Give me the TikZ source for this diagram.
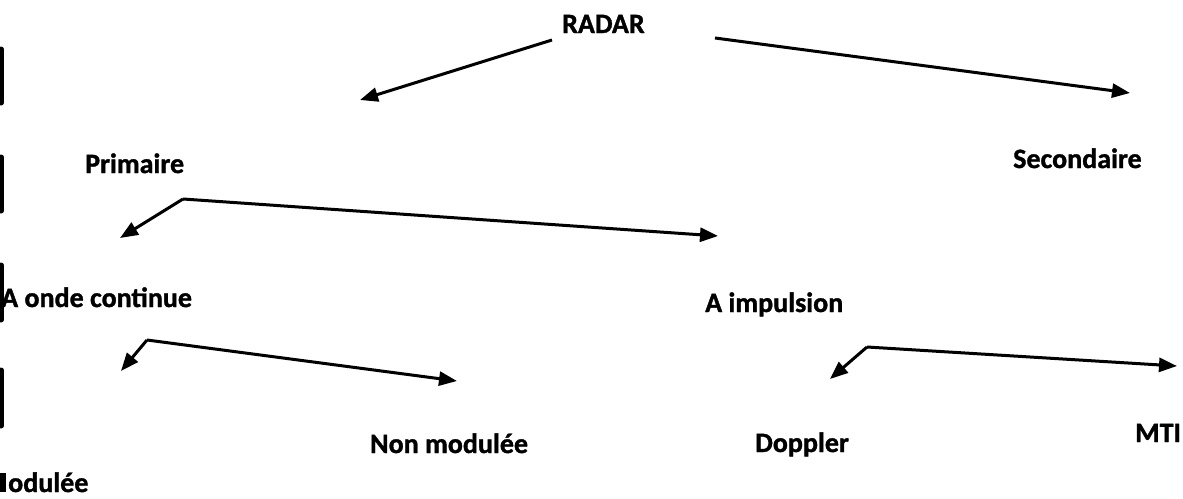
\documentclass[tikz,border=0pt]{standalone}
\usepackage{fontspec}
\setmainfont{Carlito}
\newfontfamily\heavyfont{Carlito Bold}[FakeBold=1.2]
\usetikzlibrary{arrows.meta}
\begin{document}
\begin{tikzpicture}[x=1pt,y=-1pt,
  lbl/.style={inner sep=0pt, anchor=base west, text=black,
              font=\heavyfont\fontsize{28}{34}\selectfont},
  branch/.style={line width=3pt, line join=round,
                 -{Triangle[length=18pt,width=14pt]}},
  margin/.style={line width=5pt, line cap=round}]
\useasboundingbox (0,0) rectangle (1183,498);
\clip (0,0) rectangle (1183,498);
\fill[white] (0,0) rectangle (1183,498);

% labels of the classification tree
\node[lbl] (radar) at (562,33) {RADAR};
\node[lbl] (prim)  at (85,173) {Primaire};
\node[lbl] (sec)   at (1013,168) {Secondaire};
\node[lbl] (cont)  at (1,307) {A onde continue};
\node[lbl] (imp)   at (705,312) {A impulsion};
\node[lbl] (nonmod) at (370,453) {Non modulée};
\node[lbl] (dop)   at (755,452) {Doppler};
\node[lbl] (mti)   at (1135,442) {MTI};
\node[lbl] (mod)   at (8,492) {odulée};
\fill (0,473) rectangle (6,492);

% arrow ends
\coordinate (rL0) at (552,40);   \coordinate (rL1) at (360,100);
\coordinate (rR0) at (715,38);   \coordinate (rR1) at (1130,93);
\coordinate (pC)  at (183,199);
\coordinate (pL)  at (120,238);  \coordinate (pR)  at (718,236);
\coordinate (cC)  at (147,340);
\coordinate (cL)  at (121,371);  \coordinate (cR)  at (457,381);
\coordinate (iC)  at (867,347);
\coordinate (iL)  at (830,379);  \coordinate (iR)  at (1177,366);

% branches
\draw[branch] (rL0) -- (rL1);
\draw[branch] (rR0) -- (rR1);
\draw[branch] (pC) -- (pL);
\draw[branch] (pC) -- (pR);
\draw[branch] (cC) -- (cL);
\draw[branch] (cC) -- (cR);
\draw[branch] (iC) -- (iL);
\draw[branch] (iC) -- (iR);

% dark strips along the left edge
\draw[margin] (1,49) -- (1,103);
\draw[margin] (1,157) -- (1,211);
\draw[margin] (1,265) -- (1,320);
\draw[margin] (1,370) -- (1,426);
\end{tikzpicture}
\end{document}
